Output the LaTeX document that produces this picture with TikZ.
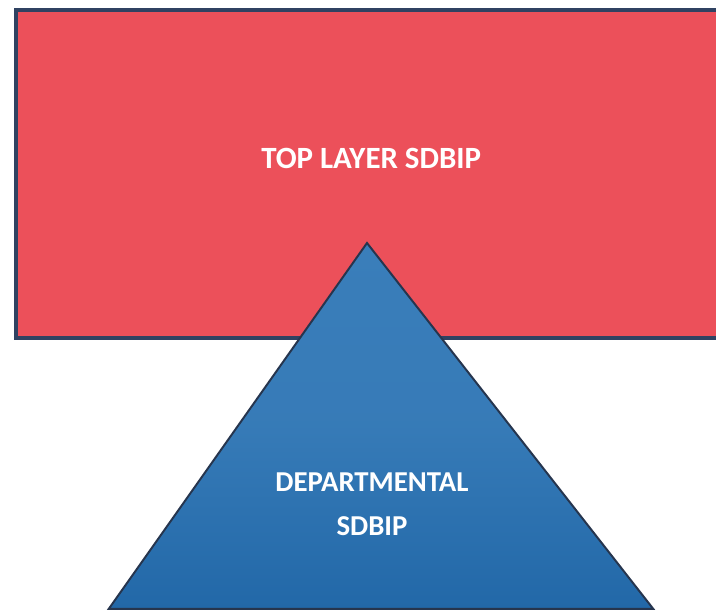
\documentclass[tikz,border=0pt]{standalone}
\usepackage{fontspec}
\setmainfont{Carlito}
\usepackage{xcolor}
\usepackage{tikz}
\usetikzlibrary{positioning, calc}
\definecolor{layerred}{RGB}{236,80,90}
\definecolor{layernavy}{RGB}{48,66,98}
\definecolor{deptblue}{RGB}{34,104,168}
\definecolor{deptlight}{RGB}{58,126,186}

\begin{document}
\begin{tikzpicture}[
    layer/.style={rectangle, draw=layernavy, fill=layerred, line width=2.2pt, minimum width=17.6cm, minimum height=8.2cm, inner sep=0pt},
    pyramid/.style={draw=layernavy!80!black, line width=1.4pt, top color=deptlight, bottom color=deptblue, middle color=deptlight!85!deptblue, shading angle=0},
    lbl/.style={text=white, font=\bfseries, align=center},
]
\useasboundingbox (0,0) rectangle (17.9,-15.275);

% top layer block
\node[layer] (top) at (9.2,-4.35) {};
\node[lbl, font=\bfseries\fontsize{22}{26}\selectfont] (toplbl) at (9.28,-3.95) {TOP LAYER SDBIP};

% departmental triangle sitting over the block
\coordinate (apex) at (9.175,-6.075);
\coordinate (baseL) at (2.72,-15.22);
\coordinate (baseR) at (16.33,-15.22);
\draw[pyramid] (apex) -- (baseL) -- (baseR) -- cycle;
\node[lbl, font=\bfseries\fontsize{20.5}{31}\selectfont] (deptlbl) at (9.3,-12.6) {DEPARTMENTAL\\SDBIP};
\end{tikzpicture}
\end{document}
